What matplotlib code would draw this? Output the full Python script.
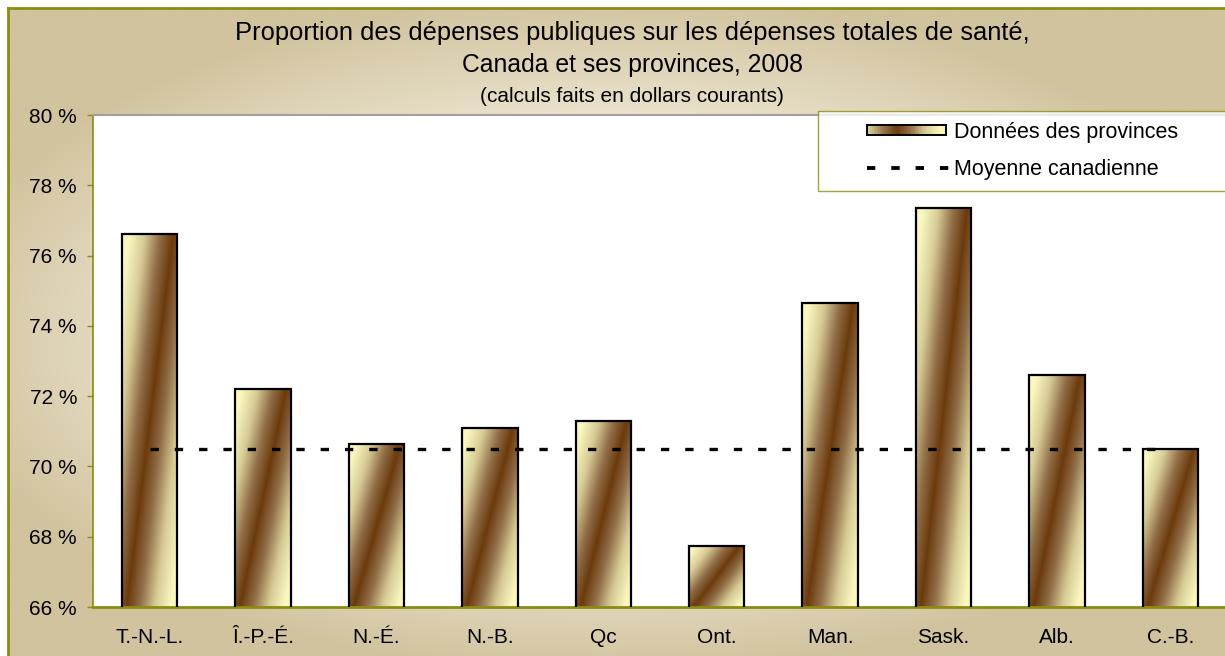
import numpy as np
import matplotlib
matplotlib.use("Agg")
import matplotlib.pyplot as plt
from matplotlib.patches import Rectangle
from matplotlib.lines import Line2D
from matplotlib.legend_handler import HandlerBase

plt.rcParams['font.family'] = ['Liberation Sans', 'DejaVu Sans']
plt.rcParams['lines.scale_dashes'] = False

# ---- data ----
provinces = ["T.-N.-L.", "Î.-P.-É.", "N.-É.", "N.-B.", "Qc", "Ont.", "Man.", "Sask.", "Alb.", "C.-B."]
public_share = [76.6, 72.2, 70.65, 71.1, 71.3, 67.75, 74.65, 77.35, 72.6, 70.5]
canada_avg = [70.5, 70.5, 70.5, 70.5, 70.5, 70.5, 70.5, 70.5, 70.5, 70.5]
yticks = [66, 68, 70, 72, 74, 76, 78, 80]
ytick_labels = ["66 %", "68 %", "70 %", "72 %", "74 %", "76 %", "78 %", "80 %"]
title_1 = "Proportion des dépenses publiques sur les dépenses totales de santé,"
title_2 = "Canada et ses provinces, 2008"
title_3 = "(calculs faits en dollars courants)"
legend_labels = ["Données des provinces", "Moyenne canadienne"]

W, H = 1225, 656
fig = plt.figure(figsize=(W / 100, H / 100), dpi=100)
fig.patch.set_facecolor("white")

OLIVE = "#8c8c10"

# ---- parchment background ----
bg = fig.add_axes([8 / W, 0, 1 - 8 / W, 1 - 8 / H], zorder=0)
yy, xx = np.mgrid[0:H, 0:W].astype(float)
r = np.sqrt(((xx - 600) / 680) ** 2 + ((yy - 330) / 345) ** 2)
t = np.clip((r - 0.55) / 0.45, 0, 1)[..., None]
light = np.array([240, 234, 216]) / 255
dark = np.array([209, 195, 158]) / 255
bgimg = light * (1 - t) + dark * t
bg.imshow(bgimg, extent=(0, 1, 0, 1), aspect="auto", origin="upper")
bg.set_xticks([]); bg.set_yticks([])
for s in ["right", "bottom"]:
    bg.spines[s].set_visible(False)
for s in ["left", "top"]:
    bg.spines[s].set_color(OLIVE)
    bg.spines[s].set_linewidth(2)

# ---- main axes ----
left_px, top_px, bot_px, right_px = 93, 115, 607, 1227
ax = fig.add_axes([left_px / W, (H - bot_px) / H, (right_px - left_px) / W, (bot_px - top_px) / H], zorder=1)
ax.set_facecolor("white")

x = np.arange(len(provinces))
bars = ax.bar(x, public_share, width=0.49, facecolor="none", edgecolor="black",
              linewidth=1.6, zorder=3)

ylo, yhi = 66, 80
ax.set_ylim(ylo, yhi)
ax.set_xlim(-0.5, len(provinces) - 0.5)

# colour ramp for the gradient fill
stops = np.array([0.0, 0.3, 0.65, 1.0])
cols = np.array([[107, 58, 12], [145, 110, 72], [215, 203, 150], [250, 248, 192]]) / 255


def ramp(tv):
    out = np.empty(tv.shape + (3,))
    for c in range(3):
        out[..., c] = np.interp(tv, stops, cols[:, c])
    return out


def bar_gradient(nv=200, nu=60):
    v = np.linspace(1, 0, nv)[:, None]
    u = np.linspace(0, 1, nu)[None, :]
    d = u - (0.08 + 0.84 * v)
    tv = np.clip(np.abs(d) / 0.8, 0, 1)
    return ramp(tv)


grad = bar_gradient()
for p in bars:
    x0, w = p.get_x(), p.get_width()
    y1 = p.get_y() + p.get_height()
    y0 = max(p.get_y(), ylo)
    im = ax.imshow(grad, extent=(x0, x0 + w, y0, y1), aspect="auto", origin="upper",
                   zorder=2, interpolation="bilinear")
    im.set_clip_path(p)

avg_line, = ax.plot(x, canada_avg, color="black", linewidth=2.4, zorder=4,
                    dash_capstyle="butt")
avg_line.set_dashes((6, 11.5))

ax.set_ylim(ylo, yhi)
ax.set_xlim(-0.5, len(provinces) - 0.5)
ax.set_yticks(yticks)
ax.set_yticklabels(ytick_labels, fontsize=15)
ax.set_xticks(x)
ax.set_xticklabels(provinces, fontsize=15)
ax.tick_params(axis="y", direction="out", length=4.5, width=1, color=OLIVE, pad=7)
ax.tick_params(axis="x", length=0, pad=15)
ax.spines["left"].set_color(OLIVE)
ax.spines["left"].set_linewidth(1.2)
ax.spines["bottom"].set_color(OLIVE)
ax.spines["bottom"].set_linewidth(2)
ax.spines["top"].set_color("#a0a0a0")
ax.spines["top"].set_linewidth(1.5)
ax.spines["right"].set_visible(False)

# ---- titles ----
cx = 632 / W
fig.text(cx, 1 - 33 / H, title_1, ha="center", va="center", fontsize=18.4, zorder=5)
fig.text(cx, 1 - 65 / H, title_2, ha="center", va="center", fontsize=17.8, zorder=5)
fig.text(cx, 1 - 97 / H, title_3, ha="center", va="center", fontsize=15, zorder=5)


# ---- legend ----
OFF = 0.32


class GradHandler(HandlerBase):
    def create_artists(self, legend, orig_handle, xdescent, ydescent, width, height, fontsize, trans):
        x0 = -xdescent + width * OFF
        w = width * (1 - OFF) - 2
        hh = height * 0.68
        y0 = -ydescent + (height - hh) / 2
        n = 50
        u = (np.arange(n) + 0.5) / n
        tv = np.clip(np.abs(u - 0.38) / 0.55, 0, 1)
        cc = ramp(tv)
        arts = []
        for i in range(n):
            arts.append(Rectangle((x0 + i * w / n, y0), w / n * 1.05, hh, facecolor=cc[i],
                                  edgecolor="none", transform=trans))
        arts.append(Rectangle((x0, y0), w, hh, facecolor="none", edgecolor="black",
                              linewidth=1.4, transform=trans))
        return arts


class DashHandler(HandlerBase):
    def create_artists(self, legend, orig_handle, xdescent, ydescent, width, height, fontsize, trans):
        x0 = -xdescent + width * OFF
        yc = -ydescent + height / 2
        ln = Line2D([x0, -xdescent + width + 2], [yc, yc], color="black", linewidth=2.8,
                    transform=trans, dash_capstyle="butt")
        ln.set_dashes((6, 11.5))
        return [ln]


leg = ax.legend([bars, avg_line], legend_labels,
                handler_map={type(bars): GradHandler(), Line2D: DashHandler()},
                loc="upper left",
                bbox_to_anchor=(818 / W, 1 - 189 / H, 480 / W, 78 / H), mode="expand",
                bbox_transform=fig.transFigure, fontsize=15.5, frameon=True, fancybox=False,
                borderpad=0.5, labelspacing=0.76, handlelength=5.58, handletextpad=0.23,
                borderaxespad=0)
leg.get_frame().set_edgecolor(OLIVE)
leg.get_frame().set_linewidth(1.0)
leg.get_frame().set_facecolor("white")
leg.set_zorder(6)

fig.savefig("out.png", dpi=100, facecolor=fig.get_facecolor())
